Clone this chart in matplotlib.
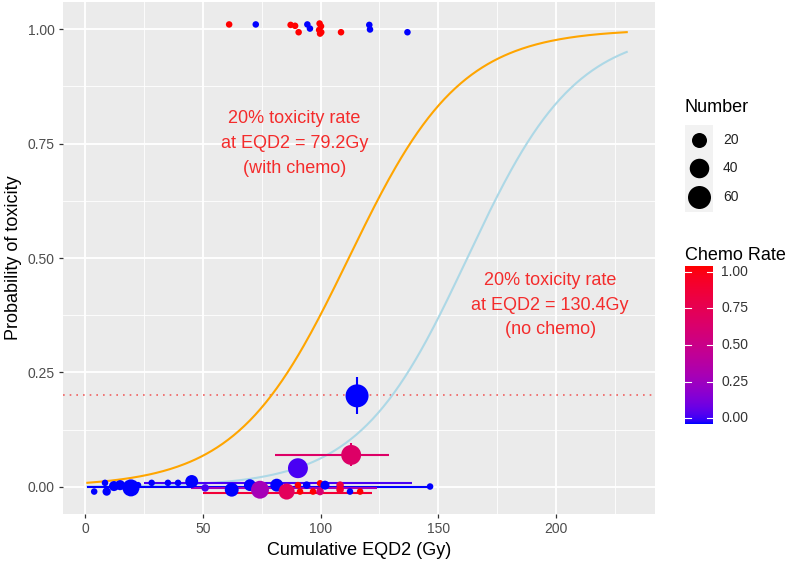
import numpy as np
import matplotlib
matplotlib.use("Agg")
import matplotlib.pyplot as plt
from matplotlib.colors import ListedColormap

plt.rcParams['font.family'] = ['Liberation Sans', 'DejaVu Sans']

# ---------------- data ----------------
# points near probability 1 (events)
top_x = [61.2, 72.5, 87.3, 89.2, 90.7, 94.4, 95.5, 99.6, 100.2, 99.4, 100.3, 99.8, 108.7, 120.7, 121.0, 136.9]
top_y = [1.010, 1.010, 1.009, 1.007, 0.993, 1.010, 1.001, 1.012, 1.006, 0.998, 0.993, 0.990, 0.993, 1.009, 0.999, 0.993]
top_chemo = [1.0, 0.0, 1.0, 1.0, 1.0, 0.0, 0.0, 1.0, 1.0, 1.0, 1.0, 1.0, 1.0, 0.0, 0.0, 0.0]
top_n = [1] * 16

# points near probability 0 and grouped points
pt_x = [3.9, 8.5, 9.2, 12.3, 14.9, 19.5, 22.5, 28.3, 35.2, 39.5, 45.3, 51.0, 62.3, 70.0,
        74.3, 81.4, 85.6, 90.4, 94.1, 91.3, 96.8, 99.8, 99.8, 101.9, 108.3, 108.3, 112.5,
        116.8, 146.5, 115.5, 113.0, 90.4]
pt_y = [-0.010, 0.009, -0.010, 0.002, 0.004, -0.002, 0.004, 0.009, 0.009, 0.009, 0.012,
        -0.002, -0.006, 0.004, -0.006, 0.004, -0.010, 0.004, 0.004, -0.010, -0.010, 0.008,
        -0.010, 0.004, 0.004, -0.006, -0.010, -0.010, 0.001, 0.199, 0.070, 0.041]
pt_n = [1, 1, 3, 6, 6, 28, 1, 1, 1, 1, 13, 2, 16, 10, 32, 13, 24, 1, 2, 1, 1, 1, 2, 4,
        2, 2, 1, 1, 1, 60, 42, 42]
pt_chemo = [0.0, 0.0, 0.0, 0.0, 0.0, 0.0, 0.0, 0.0, 0.0, 0.0, 0.0, 0.05, 0.0, 0.0, 0.3, 0.0,
            0.7, 1.0, 0.0, 1.0, 1.0, 1.0, 0.6, 0.0, 0.8, 0.9, 0.0, 1.0, 0.0, 0.0, 0.65, 0.05]

# horizontal error bars: y, xmin, xmax, chemo rate
hbar_y = [-0.001, 0.008, -0.003, -0.013, 0.070]
hbar_xmin = [1.0, 25.0, 45.0, 50.0, 80.7]
hbar_xmax = [146.5, 139.0, 124.0, 122.0, 129.0]
hbar_chemo = [0.0, 0.05, 0.3, 0.85, 0.65]

# vertical error bars: x, ymin, ymax, chemo rate
vbar_x = [115.5, 113.0]
vbar_ymin = [0.159, 0.046]
vbar_ymax = [0.240, 0.096]
vbar_chemo = [0.0, 0.65]

# logistic dose-response fits (with chemo / no chemo)
fit_labels = ["with chemo", "no chemo"]
fit_d50 = [112.0, 162.3]
fit_scale = [23.7, 23.0]
fit_td20 = [79.2, 130.4]

x_ticks = [0, 50, 100, 150, 200]
y_ticks = [0.0, 0.25, 0.5, 0.75, 1.0]
y_ticklabels = ["0.00", "0.25", "0.50", "0.75", "1.00"]
size_breaks = [20, 40, 60]
chemo_breaks = [0.0, 0.25, 0.5, 0.75, 1.0]
chemo_labels = ["0.00", "0.25", "0.50", "0.75", "1.00"]
threshold = 0.2

# ---------------- colour scale (Lab interpolation blue -> red) ----------------
def _srgb2lab(rgb):
    c = np.asarray(rgb, float)
    lin = np.where(c <= 0.04045, c / 12.92, ((c + 0.055) / 1.055) ** 2.4)
    M = np.array([[0.4124564, 0.3575761, 0.1804375],
                  [0.2126729, 0.7151522, 0.0721750],
                  [0.0193339, 0.1191920, 0.9503041]])
    xyz = M @ lin / np.array([0.95047, 1.0, 1.08883])
    f = np.where(xyz > 0.008856, np.cbrt(xyz), 7.787 * xyz + 16 / 116)
    return np.array([116 * f[1] - 16, 500 * (f[0] - f[1]), 200 * (f[1] - f[2])])

def _lab2srgb(lab):
    L, a, b = lab
    fy = (L + 16) / 116
    fx = fy + a / 500
    fz = fy - b / 200
    f = np.array([fx, fy, fz])
    xyz = np.where(f ** 3 > 0.008856, f ** 3, (f - 16 / 116) / 7.787)
    xyz = xyz * np.array([0.95047, 1.0, 1.08883])
    Mi = np.array([[3.2404542, -1.5371385, -0.4985314],
                   [-0.9692660, 1.8760108, 0.0415560],
                   [0.0556434, -0.2040259, 1.0572252]])
    lin = Mi @ xyz
    lin = np.clip(lin, 0, 1)
    c = np.where(lin <= 0.0031308, 12.92 * lin, 1.055 * lin ** (1 / 2.4) - 0.055)
    return np.clip(c, 0, 1)

lab_lo = _srgb2lab([0, 0, 1])
lab_hi = _srgb2lab([1, 0, 0])
cmap = ListedColormap([_lab2srgb(lab_lo + t * (lab_hi - lab_lo)) for t in np.linspace(0, 1, 256)])

def col(v):
    return cmap(float(v))

def px_size(n):
    d = 4.1 + 2.44 * np.sqrt(np.asarray(n, float))
    return (d * 0.72) ** 2

# ---------------- figure ----------------
W, H = 789, 562
fig = plt.figure(figsize=(W / 100, H / 100), dpi=100)
fig.patch.set_facecolor("white")

def box(l, t, r, b):
    return [l / W, 1 - b / H, (r - l) / W, (b - t) / H]

ax = fig.add_axes(box(63, 2, 655, 514))
ax.set_facecolor("#EBEBEB")
for s in ax.spines.values():
    s.set_visible(False)
ax.set_xlim(-9.34, 242.0)
ax.set_ylim(-0.059, 1.059)
ax.set_xticks(x_ticks)
ax.set_yticks(y_ticks)
ax.set_yticklabels(y_ticklabels)
ax.set_xticks([25, 75, 125, 175, 225], minor=True)
ax.set_yticks([0.125, 0.375, 0.625, 0.875], minor=True)
ax.grid(True, which="major", color="white", lw=1.3, zorder=0)
ax.grid(True, which="minor", color="white", lw=0.6, zorder=0)
ax.set_axisbelow(True)
ax.tick_params(which="major", length=3, width=0.9, color="#333333",
               labelcolor="#4D4D4D", labelsize=10, pad=3)
ax.tick_params(which="minor", length=0)
ax.set_xlabel("Cumulative EQD2 (Gy)", fontsize=13, color="black", labelpad=4)
ax.set_ylabel("Probability of toxicity", fontsize=13, color="black")
ax.yaxis.set_label_coords(-41 / 592, 0.5)

# fitted curves
xx = np.linspace(1, 230, 300)
fit_colors = ["#FFA500", "#ADD8E6"]
for d50, sc, c in zip(fit_d50, fit_scale, fit_colors):
    ax.plot(xx, 1 / (1 + np.exp(-(xx - d50) / sc)), color=c, lw=1.5, zorder=3)

ax.axhline(threshold, color="#F06060", ls=(0, (1, 3)), lw=1.2, zorder=2)

# error bars
for y, x0, x1, c in zip(hbar_y, hbar_xmin, hbar_xmax, hbar_chemo):
    ax.plot([x0, x1], [y, y], color=col(c), lw=1.5, zorder=4, solid_capstyle="butt")
for x, y0, y1, c in zip(vbar_x, vbar_ymin, vbar_ymax, vbar_chemo):
    ax.plot([x, x], [y0, y1], color=col(c), lw=1.5, zorder=4, solid_capstyle="butt")

# points
ax.scatter(pt_x, pt_y, s=px_size(pt_n), c=[col(c) for c in pt_chemo], lw=0, zorder=5)
ax.scatter(top_x, top_y, s=px_size(top_n), c=[col(c) for c in top_chemo], lw=0, zorder=5)

# annotations
ax.text(89, 0.75, "20%% toxicity rate\nat EQD2 = %.1fGy\n(with chemo)" % fit_td20[0],
        ha="center", va="center", color="#F42C2C", fontsize=13, linespacing=1.6)
ax.text(197.5, 0.397, "20%% toxicity rate\nat EQD2 = %.1fGy\n(no chemo)" % fit_td20[1],
        ha="center", va="center", color="#F42C2C", fontsize=13, linespacing=1.6)

# ---------------- size legend ----------------
fig.text(685 / W, 1 - 108 / H, "Number", fontsize=13, va="center", ha="left")
lax = fig.add_axes(box(685, 125, 713, 212))
lax.set_facecolor("#F2F2F2")
for s in lax.spines.values():
    s.set_visible(False)
lax.set_xticks([]); lax.set_yticks([])
lax.set_xlim(0, 1); lax.set_ylim(212, 125)
key_y = [140, 168, 197]
for n, yk in zip(size_breaks, key_y):
    lax.scatter([0.5], [yk], s=px_size(n), color="black", lw=0)
    fig.text(723 / W, 1 - yk / H, str(n), fontsize=10, va="center", ha="left", color="#222222")

# ---------------- colourbar ----------------
fig.text(685 / W, 1 - 256 / H, "Chemo Rate", fontsize=13, va="center", ha="left")
cax = fig.add_axes(box(685, 266, 713, 424))
grad = np.linspace(0, 1, 300).reshape(-1, 1)
cax.imshow(grad, aspect="auto", cmap=cmap, origin="lower", extent=[0, 1, -0.04, 1.04])
cax.set_xlim(0, 1)
cax.set_ylim(-0.04, 1.04)
for s in cax.spines.values():
    s.set_visible(False)
cax.set_xticks([])
cax.set_yticks([])
for v, lab in zip(chemo_breaks, chemo_labels):
    cax.plot([0, 0.2], [v, v], color="white", lw=0.8)
    cax.plot([0.8, 1], [v, v], color="white", lw=0.8)
    cax.text(1.3, v, lab, transform=cax.transData, fontsize=10, va="center",
             ha="left", color="#333333", clip_on=False)

fig.savefig("out.png", dpi=100)
